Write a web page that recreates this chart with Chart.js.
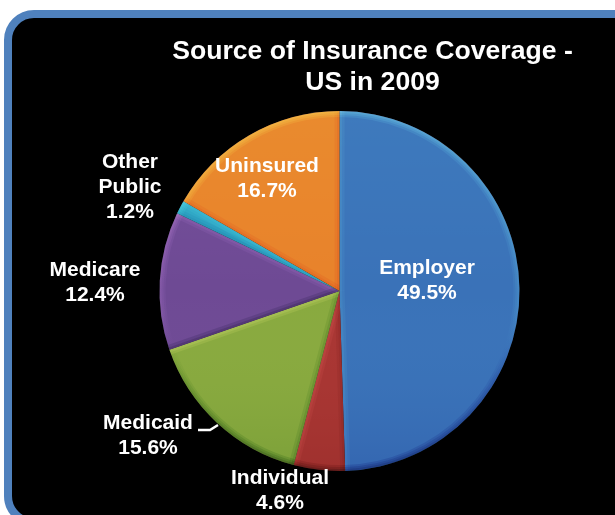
<!DOCTYPE html>
<html>
<head>
<meta charset="utf-8">
<title>Source of Insurance Coverage</title>
<script src="https://cdn.jsdelivr.net/npm/chart.js@4"></script>
<style>
  html, body { margin: 0; background: #fff; overflow: hidden; }
  #wrap { position: relative; width: 615px; height: 515px; overflow: hidden; }
  /* black rounded panel, runs off the right and bottom of the page */
  #panel {
    position: absolute; left: 4px; top: 10px; width: 700px; height: 500px;
    background: #000; border: 8px solid #4f81bd; border-radius: 30px;
  }
  #pie { position: absolute; left: 0; top: 0; }
</style>
</head>
<body>
<div id="wrap">
  <div id="panel"></div>
  <canvas id="pie" width="615" height="515"></canvas>
</div>
<script>
var categories = ['Employer', 'Individual', 'Medicaid', 'Medicare', 'Other Public', 'Uninsured'];
var shares = [49.5, 4.6, 15.6, 12.4, 1.2, 16.7];
var sliceColors = ['#3a72b8', '#a83633', '#88a93f', '#6e4a94', '#2fa5c4', '#e8822b'];
var titleLines = ['Source of Insurance Coverage -', 'US in 2009'];

// text lines of each slice label and where the block sits
var labelLines = [['Employer'], ['Individual'], ['Medicaid'], ['Medicare'], ['Other', 'Public'], ['Uninsured']];
var labelSpots = [[427, 268], [280, 478], [148, 423], [95, 270], [130, 162], [267, 166]];

// soft bevel along the rim and the straight edges of every slice
var bevel = {
  id: 'bevel',
  afterDatasetDraw: function(chart) {
    var c = chart.ctx;
    chart.getDatasetMeta(0).data.forEach(function(arc) {
      var p = arc.getProps(['x', 'y', 'startAngle', 'endAngle', 'outerRadius']);
      var r = p.outerRadius;
      c.save();
      c.beginPath();
      c.moveTo(p.x, p.y);
      c.arc(p.x, p.y, r, p.startAngle, p.endAngle);
      c.closePath();
      c.clip();
      // overlay keeps the slice hue instead of washing it out
      c.globalCompositeOperation = 'overlay';

      var shade = c.createLinearGradient(0, p.y - r, 0, p.y + r);
      shade.addColorStop(0, 'rgba(255,255,255,0.07)');
      shade.addColorStop(0.5, 'rgba(255,255,255,0)');
      shade.addColorStop(1, 'rgba(0,0,0,0.1)');
      c.fillStyle = shade;
      c.fillRect(p.x - r, p.y - r, r * 2, r * 2);

      var rim = c.createLinearGradient(0, p.y - r, 0, p.y + r);
      rim.addColorStop(0, 'rgba(255,255,255,0.12)');
      rim.addColorStop(0.55, 'rgba(255,255,255,0.05)');
      rim.addColorStop(0.75, 'rgba(0,0,0,0.08)');
      rim.addColorStop(1, 'rgba(0,0,0,0.16)');
      c.strokeStyle = rim;
      [12, 8, 4].forEach(function(w) {
        c.lineWidth = w;
        c.beginPath();
        c.arc(p.x, p.y, r, p.startAngle, p.endAngle);
        c.stroke();
      });

      // the side facing up-left catches light, the other side falls dark
      [[p.startAngle, -1], [p.endAngle, 1]].forEach(function(edge) {
        var nx = -Math.sin(edge[0]) * edge[1];
        var ny = Math.cos(edge[0]) * edge[1];
        var lit = nx * -0.5 + ny * -0.85;
        c.strokeStyle = lit > 0 ? 'rgba(255,255,255,' + (0.1 * lit + 0.02) + ')'
                                : 'rgba(0,0,0,' + (-0.12 * lit + 0.02) + ')';
        [10, 5].forEach(function(w) {
          c.lineWidth = w;
          c.beginPath();
          c.moveTo(p.x, p.y);
          c.lineTo(p.x + Math.cos(edge[0]) * r, p.y + Math.sin(edge[0]) * r);
          c.stroke();
        });
      });
      c.restore();
    });
  }
};

// heading, slice labels and the short leader line under Medicaid
var annotations = {
  id: 'annotations',
  afterDraw: function(chart) {
    var c = chart.ctx;
    c.save();
    c.fillStyle = '#fff';
    c.textAlign = 'center';
    c.textBaseline = 'middle';

    c.font = 'bold 26.6px "Liberation Sans", Arial, sans-serif';
    titleLines.forEach(function(line, i) {
      c.fillText(line, 372.5, 52 + i * 31);
    });

    c.font = 'bold 21px "Liberation Sans", Arial, sans-serif';
    categories.forEach(function(name, i) {
      var lines = labelLines[i].concat(shares[i].toFixed(1) + '%');
      lines.forEach(function(line, j) {
        c.fillText(line, labelSpots[i][0], labelSpots[i][1] + j * 25);
      });
    });

    c.strokeStyle = '#fff';
    c.lineWidth = 2.5;
    c.beginPath();
    c.moveTo(198, 430);
    c.lineTo(210, 430);
    c.lineTo(218, 425);
    c.stroke();
    c.restore();
  }
};

new Chart(document.getElementById('pie').getContext('2d'), {
  type: 'pie',
  data: {
    labels: categories,
    datasets: [{
      data: shares,
      backgroundColor: sliceColors,
      borderWidth: 0
    }]
  },
  options: {
    responsive: false,
    animation: false,
    layout: { padding: { left: 159, right: 95, top: 111, bottom: 44 } },
    plugins: {
      legend: { display: false },
      tooltip: { enabled: false }
    }
  },
  plugins: [bevel, annotations]
});
</script>
</body>
</html>
